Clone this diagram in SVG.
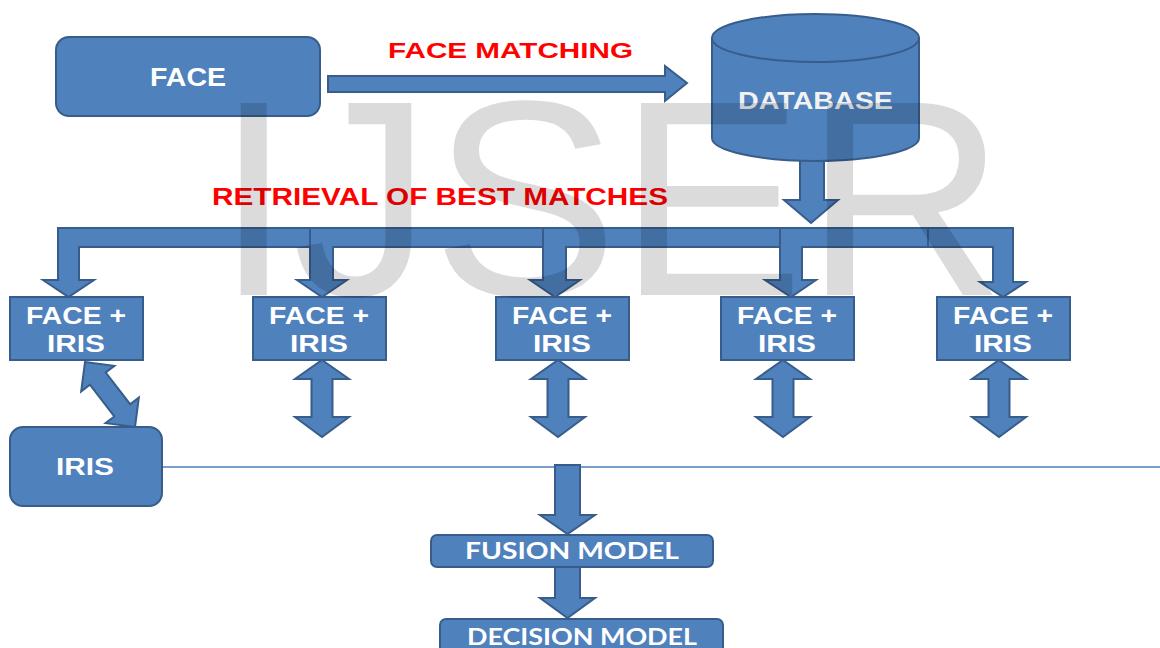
<svg xmlns="http://www.w3.org/2000/svg" width="1160" height="648" viewBox="0 0 1160 648">
<style>
.sh{fill:#4f81bd;stroke:#385d8a;stroke-width:2;stroke-linejoin:miter}
.wt{fill:#ffffff;font-family:"Liberation Sans",Arial,sans-serif;font-weight:bold;text-anchor:start}
.cb{fill:#ffffff;font-family:Lato,"Liberation Sans",sans-serif;font-weight:bold}
.red{fill:#ff0000;font-family:"Liberation Sans",Arial,sans-serif;font-weight:bold}
</style>
<defs>
<polygon id="dbl" points="0,0 27,19 10.5,19 10.5,57 27,57 0,77 -27,57 -10.5,57 -10.5,19 -27,19"/>
</defs>
<rect width="1160" height="648" fill="#ffffff"/>

<g id="connectors">
<polygon class="sh" points="328,76 665,76 665,66 687,83 665,101 665,92 328,92"/>
<polygon class="sh" points="800,137 824,137 824,200 838,200 811,223 784,200 800,200"/>
<polygon class="sh" points="310,228 58,228 58,280 43,280 68.5,297 94,280 79,280 79,247 310,247"/>
<polygon class="sh" points="543,228 310,228 310,280 297,280 322,297 347,280 333,280 333,247 543,247"/>
<polygon class="sh" points="780,228 543,228 543,280 530,280 555,297 580,280 566,280 566,247 780,247"/>
<polygon class="sh" points="928,228 780,228 780,280 765,280 791,297 816,280 802,280 802,247 928,247"/>
<polygon class="sh" points="928,228 1013,228 1013,282 1026,282 1003,297 980,282 993,282 993,247 928,247"/>
<use href="#dbl" class="sh" transform="translate(322,360)"/>
<use href="#dbl" class="sh" transform="translate(558,360)"/>
<use href="#dbl" class="sh" transform="translate(783,360)"/>
<use href="#dbl" class="sh" transform="translate(999,360)"/>
<polygon class="sh" transform="translate(85,362) rotate(52.4)" points="0,0 21,-21 21,-10 61,-10 61,-21 82,0 61,21 61,10 21,10 21,21"/>
<line x1="162" y1="467" x2="1160" y2="467" stroke="#4a7ebb" stroke-width="1.5"/>
<polygon class="sh" points="555,465 580,465 580,515 595,515 567.5,534 540,515 555,515"/>
<polygon class="sh" points="555,567 580,567 580,598 595,598 567.5,618 540,598 555,598"/>
</g>

<g id="label-face-matching">
<text class="red" x="388" y="58" font-size="22" textLength="245" lengthAdjust="spacingAndGlyphs">FACE MATCHING</text>
</g>
<g id="label-retrieval">
<text class="red" x="212" y="205" font-size="23.5" textLength="456" lengthAdjust="spacingAndGlyphs">RETRIEVAL OF BEST MATCHES</text>
</g>

<g id="face">
<rect class="sh" x="56" y="37" width="264" height="79" rx="13"/>
<text class="wt" x="150" y="86" font-size="25" textLength="76" lengthAdjust="spacingAndGlyphs">FACE</text>
</g>

<g id="database">
<path class="sh" d="M712,38 V138 A103.5,23 0 0 0 919,138 V38 Z"/>
<ellipse class="sh" cx="815.5" cy="38" rx="103.5" ry="24"/>
<text x="738" y="109" font-size="23" fill="#f2f2f2" font-family="Liberation Sans, Arial, sans-serif" font-weight="bold" textLength="155" lengthAdjust="spacingAndGlyphs">DATABASE</text>
</g>

<g id="fi1">
<rect class="sh" x="10" y="297" width="133" height="63"/>
<text class="wt" x="26" y="324" font-size="23.5" textLength="100" lengthAdjust="spacingAndGlyphs">FACE +</text>
<text class="wt" x="47" y="352" font-size="23.5" textLength="58" lengthAdjust="spacingAndGlyphs">IRIS</text>
</g>
<g id="fi2">
<rect class="sh" x="253" y="297" width="133" height="63"/>
<text class="wt" x="269" y="324" font-size="23.5" textLength="100" lengthAdjust="spacingAndGlyphs">FACE +</text>
<text class="wt" x="290" y="352" font-size="23.5" textLength="58" lengthAdjust="spacingAndGlyphs">IRIS</text>
</g>
<g id="fi3">
<rect class="sh" x="496" y="297" width="133" height="63"/>
<text class="wt" x="512" y="324" font-size="23.5" textLength="100" lengthAdjust="spacingAndGlyphs">FACE +</text>
<text class="wt" x="533" y="352" font-size="23.5" textLength="58" lengthAdjust="spacingAndGlyphs">IRIS</text>
</g>
<g id="fi4">
<rect class="sh" x="721" y="297" width="133" height="63"/>
<text class="wt" x="737" y="324" font-size="23.5" textLength="100" lengthAdjust="spacingAndGlyphs">FACE +</text>
<text class="wt" x="758" y="352" font-size="23.5" textLength="58" lengthAdjust="spacingAndGlyphs">IRIS</text>
</g>
<g id="fi5">
<rect class="sh" x="937" y="297" width="133" height="63"/>
<text class="wt" x="953" y="324" font-size="23.5" textLength="100" lengthAdjust="spacingAndGlyphs">FACE +</text>
<text class="wt" x="974" y="352" font-size="23.5" textLength="58" lengthAdjust="spacingAndGlyphs">IRIS</text>
</g>

<g id="iris">
<rect class="sh" x="10" y="427" width="152" height="79" rx="13"/>
<text class="wt" x="56" y="475" font-size="24" textLength="58" lengthAdjust="spacingAndGlyphs">IRIS</text>
</g>

<g id="fusion">
<rect class="sh" x="431" y="535" width="282" height="32" rx="6"/>
<text class="cb" x="465" y="559" font-size="22" textLength="214" lengthAdjust="spacingAndGlyphs">FUSION MODEL</text>
</g>

<g id="decision">
<rect class="sh" x="440" y="619" width="283" height="45" rx="6"/>
<text class="cb" x="467" y="645" font-size="22" textLength="230" lengthAdjust="spacingAndGlyphs">DECISION MODEL</text>
</g>

<g id="watermark">
<text x="215" y="295" font-size="279" font-family="Liberation Sans, Arial, sans-serif" fill="#000000" fill-opacity="0.14">IJSER</text>
</g>
</svg>
